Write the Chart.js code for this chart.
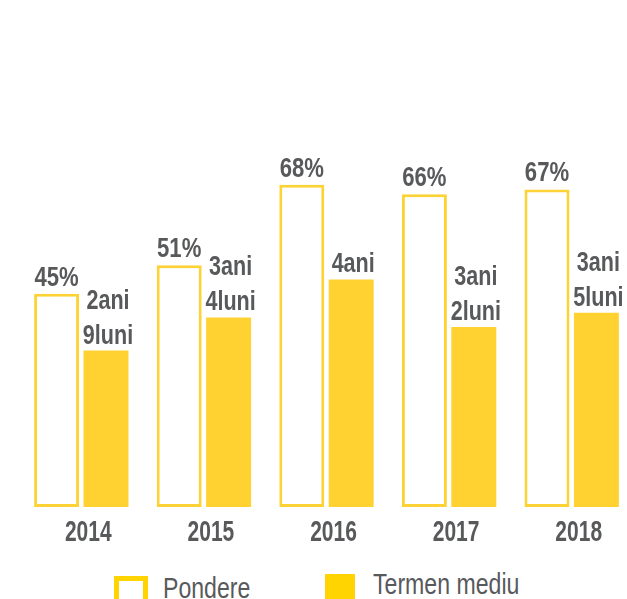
<!DOCTYPE html>
<html>
<head>
<meta charset="utf-8">
<script src="https://cdn.jsdelivr.net/npm/chart.js@4/dist/chart.umd.min.js"></script>
<style>
  html, body { margin: 0; padding: 0; background: #fff; overflow: hidden; }
  #wrap { position: relative; width: 640px; height: 599px; }
  #box { width: 640px; height: 560px; }
  #legend {
    position: absolute; top: 567px; left: 114px;
    display: flex; align-items: flex-start;
    font-family: "Liberation Sans", Arial, sans-serif;
    font-size: 30px; line-height: 34px; color: #58595b;
  }
  .item { display: flex; align-items: flex-start; }
  .sw { box-sizing: border-box; flex: none; }
  .txt { display: inline-block; transform: scaleX(0.77); transform-origin: left top; white-space: nowrap; }
</style>
</head>
<body>
<div id="wrap">
  <div id="box"><canvas id="chart"></canvas></div>
  <div id="legend"></div>
</div>
<script>
// data
const years = ["2014", "2015", "2016", "2017", "2018"];
const pondere = [45, 51, 68, 66, 67];          // %
const termenLuni = [33, 40, 48, 38, 41];        // months (ani*12 + luni)
const seriesNames = ["Pondere", "Termen mediu"];

const grey = "#58595b";
const yellow = "#ffd232";
const legendYellow = "#ffd400";
const labelFont = '"Liberation Sans", Arial, sans-serif';

const termenText = (m) => {
  const ani = Math.floor(m / 12), luni = m % 12;
  return luni ? [ani + "ani", luni + "luni"] : [ani + "ani"];
};

// no condensed font installed, so squeeze the text horizontally
function narrowText(ctx, text, x, y, sx) {
  ctx.save();
  ctx.translate(x, y);
  ctx.scale(sx, 1);
  ctx.fillText(text, 0, 0);
  ctx.restore();
}

// value labels above bars + year labels under the axis
const textLabels = {
  id: "textLabels",
  afterDatasetsDraw(chart) {
    const ctx = chart.ctx;
    const xScale = chart.scales.x;
    ctx.save();
    ctx.fillStyle = grey;
    ctx.textAlign = "center";
    ctx.textBaseline = "alphabetic";

    ctx.font = "bold 28px " + labelFont;
    chart.getDatasetMeta(0).data.forEach((bar, i) => {
      narrowText(ctx, pondere[i] + "%", bar.x, bar.y - 8, 0.79);
    });
    chart.getDatasetMeta(1).data.forEach((bar, i) => {
      const lines = termenText(termenLuni[i]);
      lines.forEach((t, k) => {
        narrowText(ctx, t, bar.x + 2, bar.y - 7 - (lines.length - 1 - k) * 35, 0.77);
      });
    });

    ctx.font = "bold 30px " + labelFont;
    years.forEach((y, i) => {
      narrowText(ctx, y, xScale.getPixelForTick(i) + 7, chart.chartArea.bottom + 34, 0.7);
    });
    ctx.restore();
  }
};

const chart = new Chart(document.getElementById("chart"), {
  type: "bar",
  data: {
    labels: years,
    datasets: [
      {
        label: seriesNames[0],
        data: pondere,
        backgroundColor: "#ffffff",
        borderColor: "#fdd235",
        borderWidth: 3,
        borderSkipped: false,
        barPercentage: 0.91,
        categoryPercentage: 0.806,
      },
      {
        label: seriesNames[1],
        data: termenLuni,
        backgroundColor: yellow,
        borderWidth: 0,
        barPercentage: 0.91,
        categoryPercentage: 0.806,
      },
    ],
  },
  options: {
    responsive: true,
    maintainAspectRatio: false,
    animation: false,
    layout: { padding: { top: 33, left: 20, right: 7, bottom: 53 } },
    plugins: {
      legend: { display: false },
      tooltip: { enabled: false },
    },
    scales: {
      x: {
        grid: { display: false, drawTicks: false },
        border: { display: false },
        ticks: { display: false },
      },
      y: {
        display: false,
        min: 0,
        max: 100,
      },
    },
  },
  plugins: [textLabels],
});

// legend under the chart
const legend = document.getElementById("legend");
const swatches = [
  "width:34px;height:34px;border:5px solid " + legendYellow + ";background:#fff;margin-top:9px;",
  "width:30px;height:34px;background:" + legendYellow + ";margin-top:7px;",
];
const itemWidths = ["211px", "auto"];
const textGaps = ["15px", "18px"];
const textTops = ["4px", "0px"];
seriesNames.forEach((name, i) => {
  const item = document.createElement("div");
  item.className = "item";
  item.style.width = itemWidths[i];
  const sw = document.createElement("div");
  sw.className = "sw";
  sw.style.cssText += swatches[i];
  const txt = document.createElement("span");
  txt.className = "txt";
  txt.textContent = name;
  txt.style.marginLeft = textGaps[i];
  txt.style.marginTop = textTops[i];
  item.appendChild(sw);
  item.appendChild(txt);
  legend.appendChild(item);
});
</script>
</body>
</html>
